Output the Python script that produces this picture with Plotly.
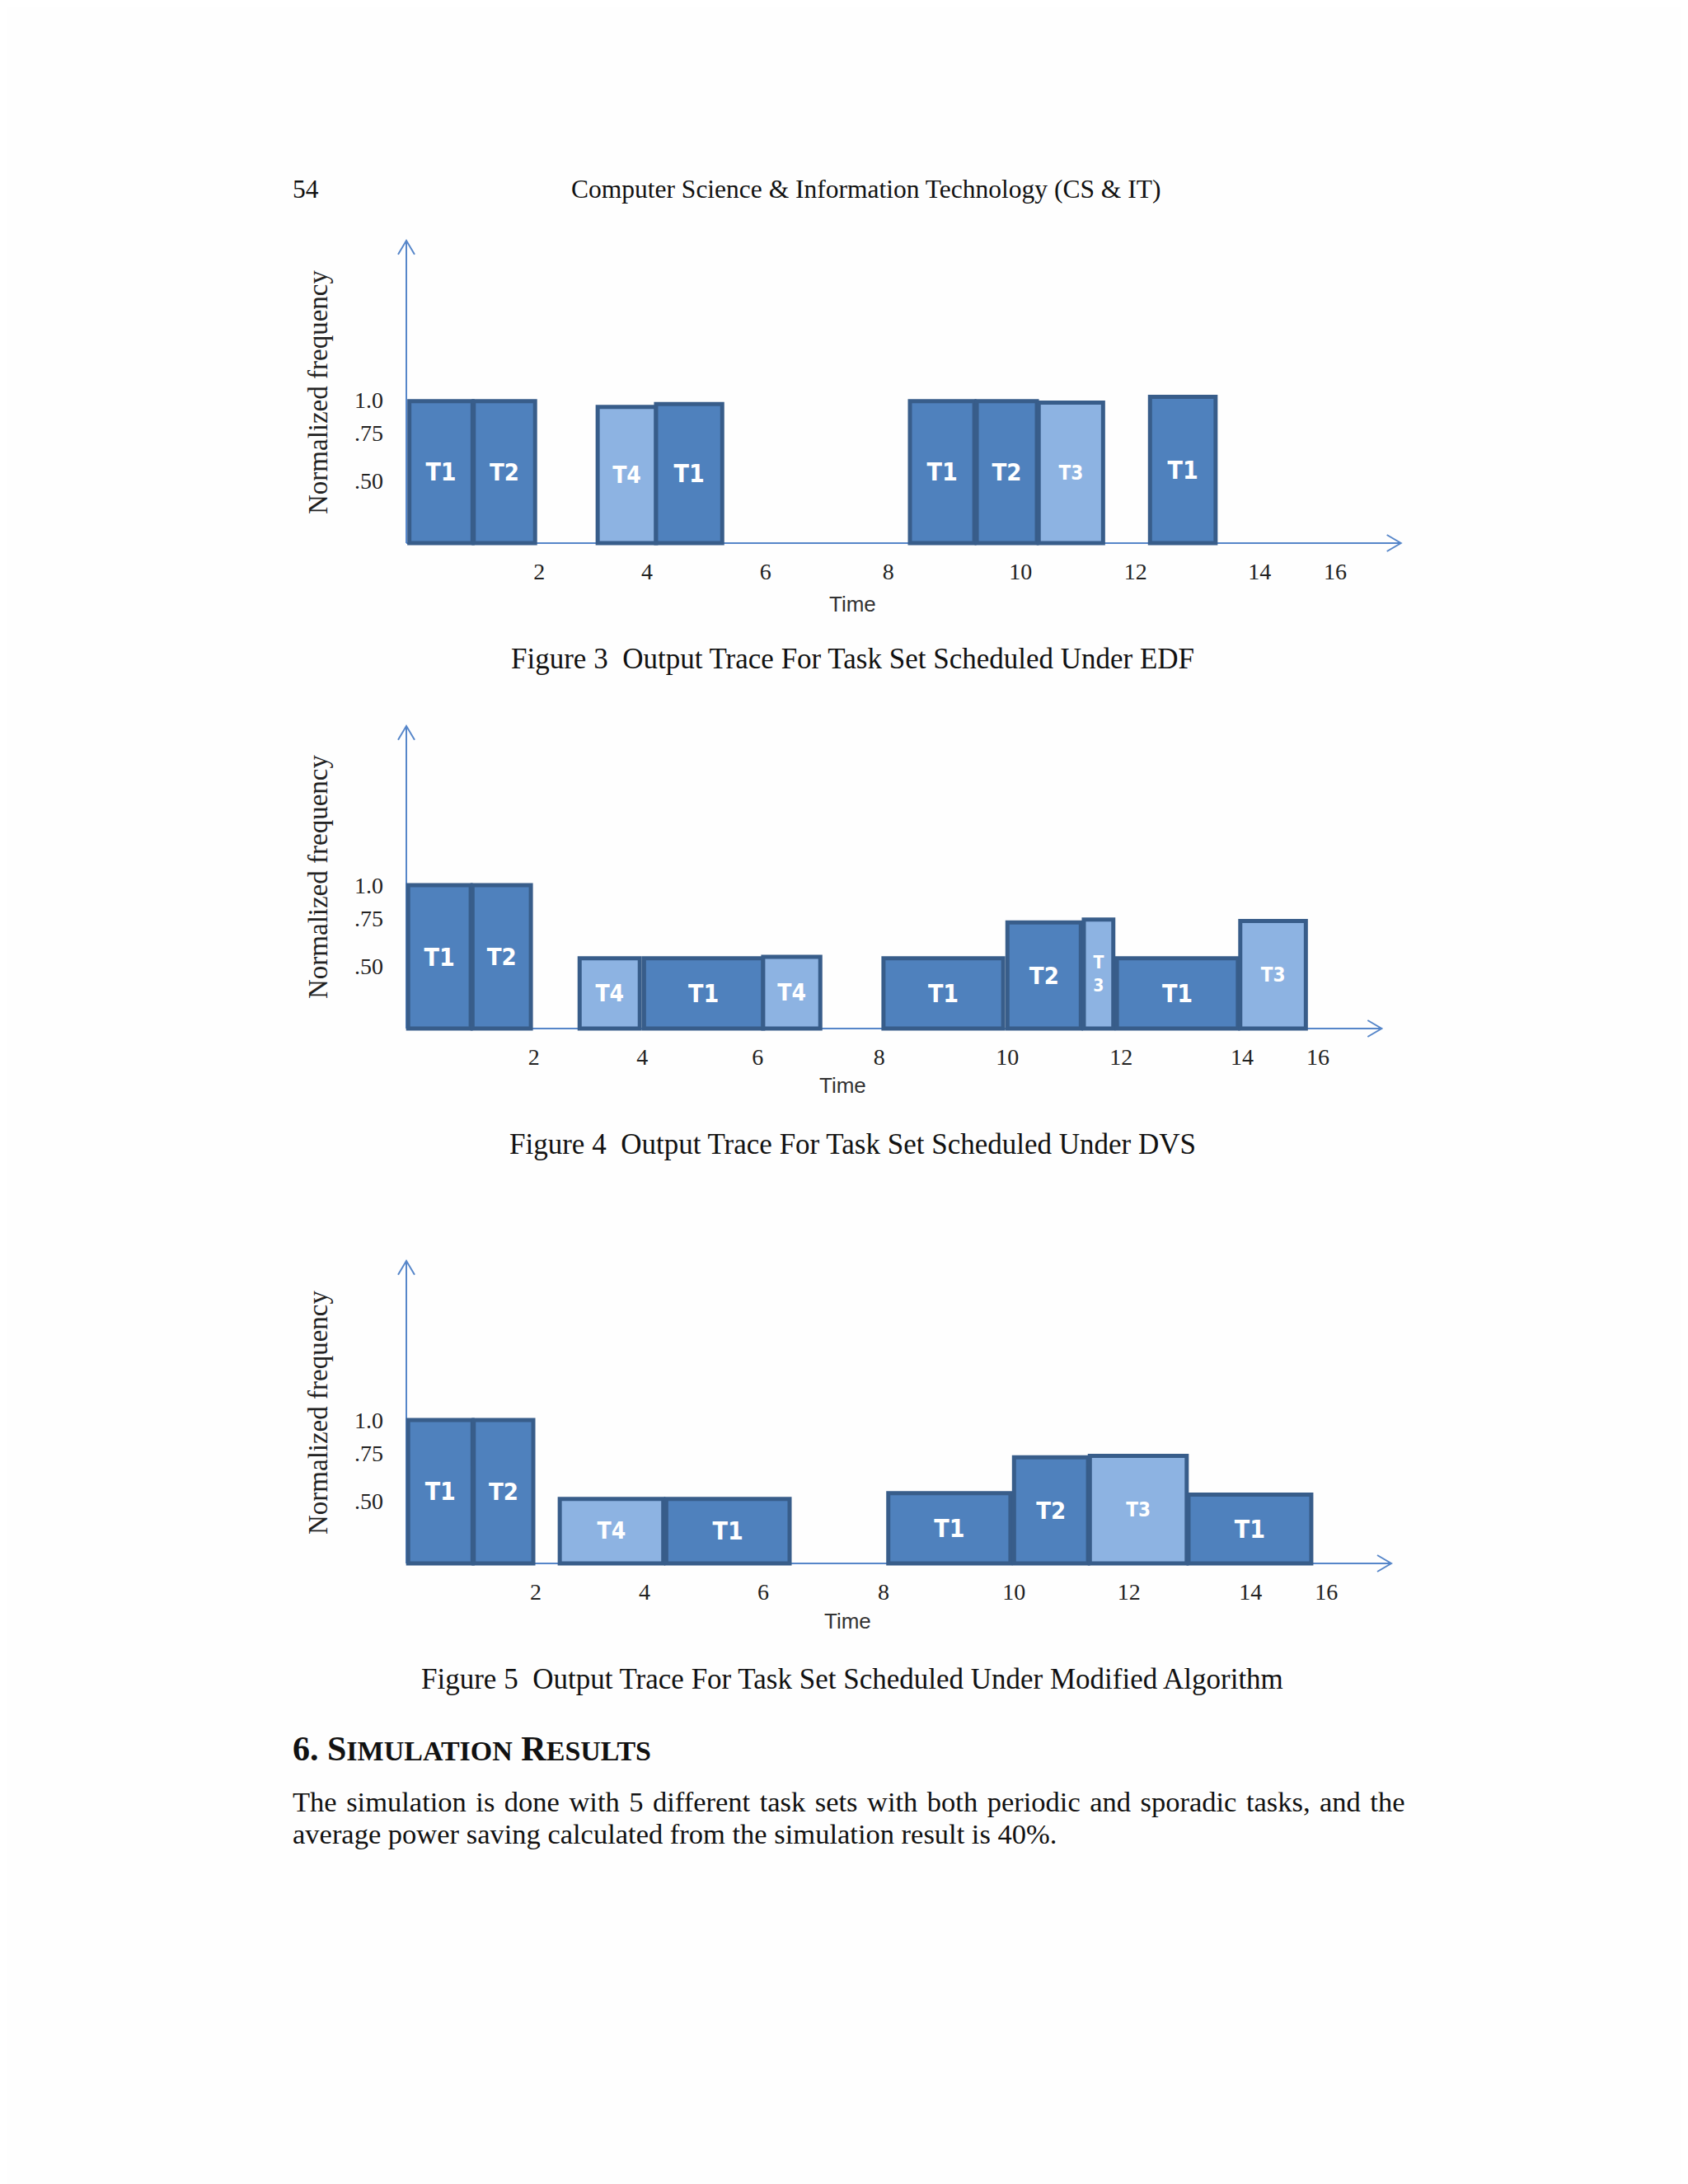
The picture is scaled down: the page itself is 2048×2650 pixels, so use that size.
import plotly.graph_objects as go

# ---------------- data ----------------
time_tick_labels = ["2", "4", "6", "8", "10", "12", "14", "16"]
freq_tick_labels = ["1.0", ".75", ".50"]
freq_tick_pos = [1.0, 0.77, 0.435]

# Figure 3 - EDF
edf_task = ["T1", "T2", "T4", "T1", "T1", "T2", "T3", "T1"]
edf_start = [0.05, 1.12, 3.18, 4.15, 8.37, 9.48, 10.51, 12.36]
edf_end = [1.10, 2.14, 4.15, 5.25, 9.44, 10.48, 11.58, 13.45]
edf_freq = [0.99, 0.99, 0.95, 0.97, 0.99, 0.99, 0.98, 1.02]
edf_tick_pos = [2.21, 4.00, 5.97, 8.01, 10.21, 12.12, 14.18, 15.44]

# Figure 4 - DVS
dvs_task = ["T1", "T2", "T4", "T1", "T4", "T1", "T2", "T3", "T1", "T3"]
dvs_start = [0.03, 1.10, 2.88, 3.95, 5.93, 7.93, 9.99, 11.26, 11.81, 13.86]
dvs_end = [1.07, 2.07, 3.88, 5.93, 6.88, 9.92, 11.21, 11.75, 13.82, 14.95]
dvs_freq = [1.0, 1.0, 0.49, 0.49, 0.50, 0.49, 0.74, 0.76, 0.49, 0.75]
dvs_tick_pos = [2.12, 3.92, 5.84, 7.86, 9.99, 11.88, 13.89, 15.15]

# Figure 5 - Modified algorithm
mod_task = ["T1", "T2", "T4", "T1", "T1", "T2", "T3", "T1"]
mod_start = [0.03, 1.12, 2.55, 4.32, 8.01, 10.10, 11.36, 13.00]
mod_end = [1.10, 2.11, 4.27, 6.37, 10.04, 11.33, 12.97, 15.04]
mod_freq = [1.0, 1.0, 0.45, 0.45, 0.49, 0.74, 0.75, 0.48]
mod_tick_pos = [2.15, 3.96, 5.93, 7.93, 10.10, 12.01, 14.03, 15.29]

captions = [
    "Figure 3  Output Trace For Task Set Scheduled Under EDF",
    "Figure 4  Output Trace For Task Set Scheduled Under DVS",
    "Figure 5  Output Trace For Task Set Scheduled Under Modified Algorithm",
]

# ---------------- styling / layout constants ----------------
PAGE_OFF = 8            # default body margin of the html page
W, H = 2048 - PAGE_OFF, 2650 - PAGE_OFF
ORIGIN_X = 493          # pixel of the vertical axis (page coords)
UNIT_X = 73.0           # pixels per time unit
UNIT_Y = 174.0          # pixels per frequency unit
AXIS_Y = [659, 1248, 1897]
X_END = [16.53, 16.21, 16.37]
Y_TOP = 2.11
X_RANGE = [(466 - ORIGIN_X) / UNIT_X, (1722 - ORIGIN_X) / UNIT_X]
Y_RANGE = [-0.085, 2.2]

DARK = "#4f81bd"
LIGHT = "#8db3e2"
EDGE = "#385d8a"
AXIS_COL = "#5686c9"
SERIF = "Liberation Serif, Times New Roman, serif"
NARROW = "Liberation Sans Narrow, DejaVu Sans Condensed, Arial Narrow, Roboto, sans-serif"
LABEL_SIZE = {"T1": 30, "T2": 29, "T3": 24, "T4": 28}
FILL = {"T1": DARK, "T2": DARK, "T3": LIGHT, "T4": LIGHT}


def px_x(p):
    return (p - PAGE_OFF) / W


def px_y(p):
    return 1 - (p - PAGE_OFF) / H


fig = go.Figure()
charts = [
    (edf_task, edf_start, edf_end, edf_freq, edf_tick_pos),
    (dvs_task, dvs_start, dvs_end, dvs_freq, dvs_tick_pos),
    (mod_task, mod_start, mod_end, mod_freq, mod_tick_pos),
]

shapes = []
annotations = []
for i, (task, start, end, freq, tick_pos) in enumerate(charts):
    n = "" if i == 0 else str(i + 1)
    xa, ya = "x" + n, "y" + n
    widths = [e - s for s, e in zip(start, end)]
    centers = [(s + e) / 2 for s, e in zip(start, end)]
    texts = [t if w > 0.6 else t[0] + "<br>" + t[1:] for t, w in zip(task, widths)]
    sizes = [LABEL_SIZE[t] if w > 0.6 else 21 for t, w in zip(task, widths)]
    fig.add_trace(go.Bar(
        x=centers, y=freq, width=widths, base=0,
        xaxis=xa, yaxis=ya,
        marker=dict(color=[FILL[t] for t in task], line=dict(color=EDGE, width=5)),
        text=texts, textposition="inside", insidetextanchor="middle",
        textangle=0, constraintext="none",
        textfont=dict(color="white", size=sizes, family=NARROW, weight="bold"),
        hoverinfo="skip", showlegend=False,
    ))

    ay = AXIS_Y[i]
    bottom = ay - Y_RANGE[0] * UNIT_Y
    top = ay - Y_RANGE[1] * UNIT_Y
    x0 = ORIGIN_X + X_RANGE[0] * UNIT_X
    x1 = ORIGIN_X + X_RANGE[1] * UNIT_X
    fig.update_layout(**{
        "xaxis" + n: dict(
            domain=[px_x(x0), px_x(x1)], range=X_RANGE, anchor=ya,
            showgrid=False, zeroline=False, showline=False, ticks="",
            tickvals=tick_pos, ticktext=time_tick_labels,
            tickfont=dict(family=SERIF, size=28, color="#222"),
            fixedrange=True,
        ),
        "yaxis" + n: dict(
            domain=[px_y(bottom), px_y(top)], range=Y_RANGE, anchor=xa,
            showgrid=False, zeroline=False, showline=False, ticks="",
            tickvals=freq_tick_pos, ticktext=freq_tick_labels,
            tickfont=dict(family=SERIF, size=28, color="#222"),
            fixedrange=True,
        ),
    })

    # axes with open arrow heads
    xe = X_END[i]
    ah_len_x = 17 / UNIT_X
    ah_half_y = 10 / UNIT_Y
    ah_len_y = 17 / UNIT_Y
    ah_half_x = 10 / UNIT_X
    line = dict(color=AXIS_COL, width=2)
    shapes += [
        dict(type="line", xref=xa, yref=ya, x0=0, y0=0, x1=xe, y1=0, line=line, layer="below"),
        dict(type="line", xref=xa, yref=ya, x0=0, y0=0, x1=0, y1=Y_TOP, line=line, layer="below"),
        dict(type="path", xref=xa, yref=ya, line=line,
             path=f"M {xe-ah_len_x},{ah_half_y} L {xe},0 L {xe-ah_len_x},{-ah_half_y}"),
        dict(type="path", xref=xa, yref=ya, line=line,
             path=f"M {-ah_half_x},{Y_TOP-ah_len_y} L 0,{Y_TOP} L {ah_half_x},{Y_TOP-ah_len_y}"),
    ]

# axis titles (placed to match the reference page)
time_pos = [(1034, 733), (1022, 1317), (1028, 1967)]
ylab_pos = [(386, 476), (386, 1064), (386, 1714)]
cap_y = [799, 1388, 2037]
for i in range(3):
    annotations.append(dict(text="Time", x=px_x(time_pos[i][0]), y=px_y(time_pos[i][1]),
                            xref="paper", yref="paper", showarrow=False,
                            xanchor="center", yanchor="middle",
                            font=dict(family="Liberation Sans, Arial, sans-serif", size=26, color="#333")))
    annotations.append(dict(text="Normalized frequency", x=px_x(ylab_pos[i][0]), y=px_y(ylab_pos[i][1]),
                            xref="paper", yref="paper", showarrow=False, textangle=-90,
                            xanchor="center", yanchor="middle",
                            font=dict(family=SERIF, size=33, color="#222")))
    annotations.append(dict(text=captions[i], x=px_x(1034), y=px_y(cap_y[i]),
                            xref="paper", yref="paper", showarrow=False,
                            xanchor="center", yanchor="middle",
                            font=dict(family=SERIF, size=35, color="#111")))

HS = "\u200a"  # hair space to emulate the justified first line
line1 = "The simulation is done with 5 different task sets with both periodic and sporadic tasks, and the"
line1 = line1.replace(" ", " " + HS)

# page header, section heading, body text
annotations += [
    dict(text="54", x=px_x(353), y=px_y(230), xref="paper", yref="paper", showarrow=False,
         xanchor="left", yanchor="middle", font=dict(family=SERIF, size=31.5, color="#111")),
    dict(text="Computer Science &amp; Information Technology (CS &amp; IT)", x=px_x(1050), y=px_y(230),
         xref="paper", yref="paper", showarrow=False, xanchor="center", yanchor="middle",
         font=dict(family=SERIF, size=31.5, color="#111")),
    dict(text=("<b>6. S<span style='font-size:34px'>IMULATION</span> R"
               "<span style='font-size:34px'>ESULTS</span></b>"),
         x=px_x(353), y=px_y(2122), xref="paper", yref="paper", showarrow=False,
         xanchor="left", yanchor="middle", font=dict(family=SERIF, size=42, color="#111")),
    dict(text=line1,
         x=px_x(353), y=px_y(2186), xref="paper", yref="paper", showarrow=False,
         xanchor="left", yanchor="middle", font=dict(family=SERIF, size=34.5, color="#111")),
    dict(text="average power saving calculated from the simulation result is 40%.",
         x=px_x(353), y=px_y(2225), xref="paper", yref="paper", showarrow=False,
         xanchor="left", yanchor="middle", font=dict(family=SERIF, size=34.5, color="#111")),
]

fig.update_layout(
    width=W, height=H, margin=dict(l=0, r=0, t=0, b=0),
    paper_bgcolor="#fefefe", plot_bgcolor="rgba(0,0,0,0)",
    barmode="overlay", showlegend=False,
    shapes=shapes, annotations=annotations,
)

fig.write_html("out.html")
